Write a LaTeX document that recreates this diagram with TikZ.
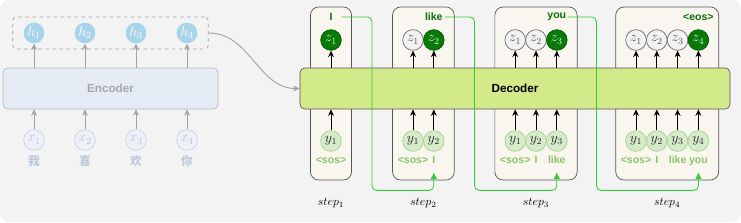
\documentclass[tikz,border=0pt]{standalone}
\usepackage{fontspec}
\setsansfont{Liberation Sans}
\newfontfamily\cjk{Noto Sans CJK SC}
\usetikzlibrary{arrows.meta,calc,fit,positioning}
\definecolor{bgGray}{HTML}{F3F3F3}
\definecolor{hBlue}{HTML}{A8D4EA}
\definecolor{encFill}{HTML}{E4EBF4}
\definecolor{encLine}{HTML}{B5B8BE}
\definecolor{encText}{HTML}{A4A8AE}
\definecolor{xFill}{HTML}{EEF1F7}
\definecolor{xLine}{HTML}{C6D0E2}
\definecolor{xText}{HTML}{B8C3D8}
\definecolor{fade}{HTML}{A3A3A3}
\definecolor{decFill}{HTML}{D3EA8B}
\definecolor{stepFill}{HTML}{F8F6EE}
\definecolor{darkLine}{HTML}{555555}
\definecolor{zGreen}{HTML}{087A08}
\definecolor{yFill}{HTML}{D6EBC9}
\definecolor{yLine}{HTML}{A5D18D}
\definecolor{yText}{HTML}{8DC46C}
\definecolor{wordGreen}{HTML}{0B6E0B}
\definecolor{feedGreen}{HTML}{33CC33}
\newcommand{\inword}[1]{\ifcase#1\or<sos>\or I\or like\or you\fi}
\newcommand{\outword}[1]{\ifcase#1\or I\or like\or you\or <eos>\fi}
\tikzset{
  unit/.style={circle,minimum size=0.62cm,inner sep=0pt,line width=0.6pt,font=\large},
  hnode/.style={unit,fill=hBlue,text=white},
  xnode/.style={unit,draw=xLine,fill=xFill,text=xText},
  zold/.style={unit,draw=darkLine!85,fill=gray!10,text=darkLine},
  zcur/.style={unit,draw=zGreen!75!black,fill=zGreen,text=white!88!zGreen},
  ynode/.style={unit,draw=yLine,fill=yFill,text=black!85},
  hgroup/.style={draw=fade,dashed,line width=0.6pt,rounded corners=3pt,inner xsep=9pt,inner ysep=4.5pt},
  encbox/.style={draw=encLine,fill=encFill,text=encText,rounded corners=4pt,line width=0.6pt,font=\normalsize\bfseries\sffamily},
  decbox/.style={draw=darkLine,fill=decFill,text=black,rounded corners=4pt,line width=0.6pt,font=\normalsize\bfseries\sffamily},
  stepbox/.style={draw=darkLine,fill=stepFill,rounded corners=7pt,line width=0.6pt},
  charlabel/.style={font=\normalsize\cjk\bfseries,text=xText!90,inner sep=1pt},
  inlabel/.style={font=\small\bfseries\sffamily,text=yText,inner sep=1pt,text height=7pt,text depth=2pt},
  outword/.style={font=\small\bfseries\sffamily,text=wordGreen,inner sep=1pt,minimum width=18pt},
  fadearrow/.style={-{Stealth[length=5.5pt,width=5pt]},line width=0.8pt,draw=fade},
  blkarrow/.style={-{Stealth[length=5.5pt,width=5pt]},line width=0.8pt,draw=black},
  feedarrow/.style={-{Latex[length=5.5pt,width=5.5pt]},line width=0.7pt,draw=feedGreen,rounded corners=4pt}
}
\begin{document}
\begin{tikzpicture}[x=0.03cm,y=-0.03cm]
  \fill[bgGray,rounded corners=8pt] (0,0) rectangle (741,222);
  \useasboundingbox (0,0) rectangle (741,222);
  % encoder side
  \node[encbox,minimum width=6.45cm,minimum height=1.23cm] (enc) at (110.5,88.5) {Encoder};
  \foreach \i/\c in {1/我,2/喜,3/欢,4/你} {
    \node[hnode] (h\i) at ({34+51*(\i-1)},33) {$h_\i$};
    \node[xnode] (x\i) at ({34+51*(\i-1)},140) {$x_\i$};
    \node[charlabel] (c\i) at ({34+51*(\i-1)},161) {\c};
    \draw[fadearrow] (x\i.north) -- (x\i.north |- enc.south);
    \draw[fadearrow] (h\i.south |- enc.north) -- (h\i.south);
  }
  \node[hgroup,fit=(h1)(h4)] (hs) {};
  % decoder steps
  \foreach \k/\cx in {1/331,2/423.4,3/536,4/667.2} {
    \pgfmathsetmacro\bw{(20.5+20.6*\k)*0.03}
    \node[stepbox,minimum width=\bw cm,minimum height=5.19cm] (s\k) at (\cx,93.5) {};
    \node (t\k) at (\cx,203) {$step_{\k}$};
  }
  \node[decbox,minimum width=12.9cm,minimum height=1.23cm] (dec) at (515,88.5) {Decoder};
  \draw[fadearrow] (hs.east) to[out=0,in=180] (dec.west);
  \foreach \k/\cx in {1/331,2/423.4,3/536,4/667.2} {
    \foreach \j in {1,...,\k} {
      \ifnum\j=\k \def\zs{zcur}\else\def\zs{zold}\fi
      \node[\zs] (z\k\j) at ({\cx+(\j-(\k+1)/2)*20.8},40) {$z_\j$};
      \node[ynode] (y\k\j) at ({\cx+(\j-(\k+1)/2)*20.8},141) {$y_\j$};
      \node[inlabel] (l\k\j) at ({\cx+(\j-(\k+1)/2)*20.8},161) {\inword{\j}};
      \draw[blkarrow] (y\k\j.north) -- (y\k\j.north |- dec.south);
      \draw[blkarrow] (z\k\j.south |- dec.north) -- (z\k\j.south);
    }
    \node[outword] (w\k) at (z\k\k |- 0,17) {\outword{\k}};
  }
  % feed the output back in
  \coordinate (g1) at ($(s1.south east)!0.5!(s2.south west)+(0,10)$);
  \coordinate (g2) at ($(s2.south east)!0.5!(s3.south west)+(0,10)$);
  \coordinate (g3) at ($(s3.south east)!0.5!(s4.south west)+(0,10)$);
  \draw[feedarrow] (w1.east) -| (g1) -| ([yshift=-4pt]l22.south);
  \draw[feedarrow] (w2.east) -| (g2) -| ([yshift=-4pt]l33.south);
  \draw[feedarrow] (w3.east) -| (g3) -| ([yshift=-4pt]l44.south);
\end{tikzpicture}
\end{document}
